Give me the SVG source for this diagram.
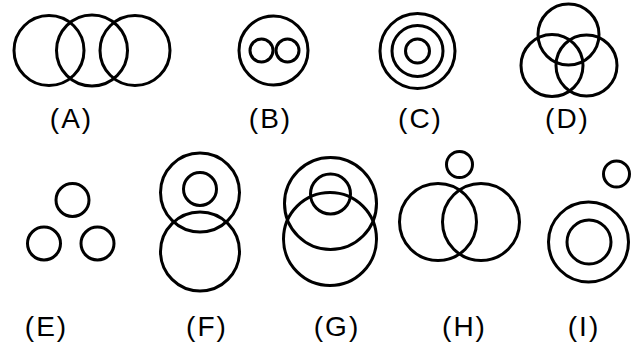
<svg xmlns="http://www.w3.org/2000/svg" width="640" height="349" viewBox="0 0 640 349">
<style>
circle { fill: none; stroke: #000; stroke-width: 3; }
text { font-family: "Liberation Sans", Arial, sans-serif; font-size: 28px; fill: #000; text-anchor: middle; letter-spacing: 2px; }
</style>
<rect width="640" height="349" fill="#fff"/>
<g id="A">
<circle cx="49" cy="50.5" r="35"/>
<circle cx="92" cy="50.5" r="35.5"/>
<circle cx="135" cy="50.5" r="35"/>
<text x="71.5" y="128">(A)</text>
</g>
<g id="B">
<circle cx="273.5" cy="50.5" r="34.5"/>
<circle cx="261.5" cy="50.5" r="11.5"/>
<circle cx="287.5" cy="50.5" r="11.5"/>
<text x="270.5" y="128">(B)</text>
</g>
<g id="C">
<circle cx="417.5" cy="51" r="37.5"/>
<circle cx="417.5" cy="51" r="25.5"/>
<circle cx="417.5" cy="51" r="12"/>
<text x="420.5" y="128">(C)</text>
</g>
<g id="D">
<circle cx="568.5" cy="34.5" r="30.5"/>
<circle cx="552" cy="65.5" r="31"/>
<circle cx="586.5" cy="65.5" r="30.5"/>
<text x="567.5" y="128">(D)</text>
</g>
<g id="E">
<circle cx="72.5" cy="200" r="16.5"/>
<circle cx="44" cy="243.5" r="16.5"/>
<circle cx="97.5" cy="243.5" r="16.5"/>
<text x="46.5" y="336">(E)</text>
</g>
<g id="F">
<circle cx="200" cy="192.5" r="39.5"/>
<circle cx="200" cy="189" r="16.5"/>
<circle cx="200" cy="251.5" r="39.5"/>
<text x="207" y="336">(F)</text>
</g>
<g id="G">
<circle cx="330.5" cy="203.5" r="46"/>
<circle cx="330.5" cy="194" r="20"/>
<circle cx="330" cy="239" r="46.5"/>
<text x="337" y="336">(G)</text>
</g>
<g id="H">
<circle cx="459.5" cy="164.5" r="13"/>
<circle cx="438" cy="222" r="38.5"/>
<circle cx="481" cy="222" r="38.5"/>
<text x="464.5" y="336">(H)</text>
</g>
<g id="I">
<circle cx="616.5" cy="174" r="13"/>
<circle cx="588.5" cy="242" r="40"/>
<circle cx="589" cy="242" r="22"/>
<text x="584" y="336">(I)</text>
</g>
</svg>
